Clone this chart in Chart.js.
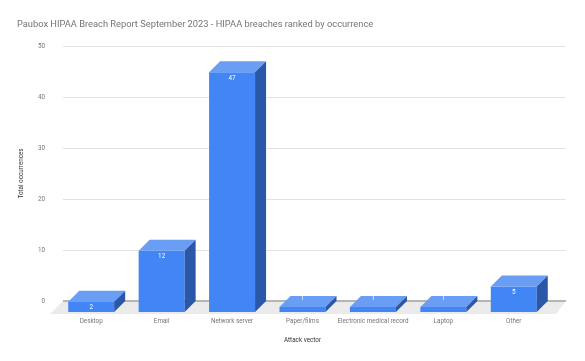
<!DOCTYPE html>
<html>
<head>
<meta charset="utf-8">
<script src="https://cdn.jsdelivr.net/npm/chart.js@4"></script>
<style>
  body { margin: 0; background: #fff; }
  canvas { display: block; }
</style>
</head>
<body>
<canvas id="myChart" width="585" height="361"></canvas>
<script>
const categories = ['Desktop', 'Email', 'Network server', 'Paper/films', 'Electronic medical record', 'Laptop', 'Other'];
const occurrences = [2, 12, 47, 1, 1, 1, 5];
const yTicks = [0, 10, 20, 30, 40, 50];

// 3d look: front face is pushed down, depth goes up/right
const depth = 11;
const front = '#4285f4', topFace = '#6a9ef5', sideFace = '#2b57a8';

const box3d = {
  id: 'box3d',
  beforeDatasetsDraw(chart) {
    const ctx = chart.ctx;
    const area = chart.chartArea;
    const y = chart.scales.y;
    const zero = y.getPixelForValue(0);
    // floor
    ctx.save();
    ctx.fillStyle = '#ebebeb';
    ctx.beginPath();
    ctx.moveTo(area.left + 7, zero);
    ctx.lineTo(area.right + 17, zero);
    ctx.lineTo(area.right + 7, zero + 13);
    ctx.lineTo(area.left - 6, zero + 13);
    ctx.closePath();
    ctx.fill();
    // grid on back wall
    yTicks.forEach(v => {
      const py = Math.round(y.getPixelForValue(v));
      ctx.strokeStyle = v === 0 ? '#b5b5b5' : '#e3e3e3';
      ctx.lineWidth = v === 0 ? 2 : 1;
      ctx.beginPath();
      ctx.moveTo(area.left + 7, py + (v === 0 ? 0 : 0.5));
      ctx.lineTo(area.right + 17, py + (v === 0 ? 0 : 0.5));
      ctx.stroke();
    });
    ctx.restore();
    ctx.save();
    ctx.translate(0, depth);
  },
  afterDatasetsDraw(chart) {
    const ctx = chart.ctx;
    ctx.restore();
    const meta = chart.getDatasetMeta(0);
    meta.data.forEach((bar, i) => {
      const p = bar.getProps(['x', 'y', 'base', 'width'], true);
      const l = p.x - p.width / 2, r = p.x + p.width / 2;
      const t = p.y + depth, b = p.base + depth;
      ctx.fillStyle = topFace;
      ctx.beginPath();
      ctx.moveTo(l, t); ctx.lineTo(r, t);
      ctx.lineTo(r + depth, t - depth); ctx.lineTo(l + depth, t - depth);
      ctx.closePath(); ctx.fill();
      ctx.fillStyle = sideFace;
      ctx.beginPath();
      ctx.moveTo(r, t); ctx.lineTo(r + depth, t - depth);
      ctx.lineTo(r + depth, b - depth); ctx.lineTo(r, b);
      ctx.closePath(); ctx.fill();
      // value label
      ctx.fillStyle = '#ffffff';
      ctx.font = '6.3px Roboto';
      ctx.textAlign = 'center';
      ctx.textBaseline = 'middle';
      const ly = (b - t) >= 10 ? t + 6 : t - 8;
      ctx.fillText(String(occurrences[i]), p.x, ly);
    });
  }
};

const myChart = new Chart(document.getElementById('myChart'), {
  type: 'bar',
  data: {
    labels: categories,
    datasets: [{
      label: 'Total occurrences',
      data: occurrences,
      backgroundColor: front,
      borderWidth: 0,
      barPercentage: 0.653,
      categoryPercentage: 1
    }]
  },
  options: {
    responsive: false,
    animation: false,
    layout: { padding: { left: 17, right: 36, top: 0, bottom: 0 } },
    plugins: {
      legend: { display: false },
      tooltip: { enabled: false },
      title: {
        display: true,
        text: 'Paubox HIPAA Breach Report September 2023 - HIPAA breaches ranked by occurrence',
        align: 'start',
        color: '#757575',
        font: { family: 'Roboto', size: 9.3, weight: 'normal', lineHeight: 1.2 },
        padding: { top: 19.5, bottom: 15.3 }
      }
    },
    scales: {
      x: {
        grid: { display: false, drawTicks: false },
        border: { display: false },
        ticks: { color: '#757575', font: { family: 'Roboto', size: 6.3 }, padding: 17, maxRotation: 0, autoSkip: false },
        title: { display: true, text: 'Attack vector', color: '#333333', font: { family: 'Roboto', size: 6.3 }, padding: { top: 0, bottom: 17 } },
        afterFit: s => { s.height = 60; }
      },
      y: {
        min: 0,
        max: 50,
        grid: { display: false, drawTicks: false },
        border: { display: false },
        ticks: { stepSize: 10, color: '#757575', font: { family: 'Roboto', size: 6.3 }, padding: 11 },
        title: { display: true, text: 'Total occurrences', color: '#333333', font: { family: 'Roboto', size: 6.3 }, padding: { top: 1, bottom: 0 } },
        afterFit: s => { s.width = 39; }
      }
    }
  },
  plugins: [box3d]
});
</script>
</body>
</html>
